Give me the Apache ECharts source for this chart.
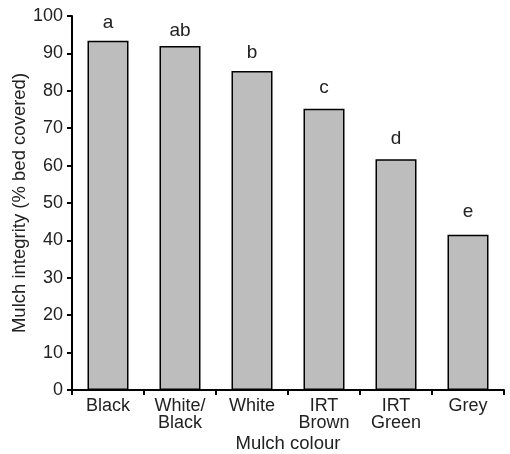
<!DOCTYPE html>
<html>
<head>
<meta charset="utf-8">
<script src="https://cdn.jsdelivr.net/npm/echarts@6/dist/echarts.min.js"></script>
<style>
  html, body { margin: 0; padding: 0; background: #fff; }
  #chart { width: 510px; height: 454px; }
</style>
</head>
<body>
<div id="chart"></div>
<script>
const categories = ['Black', 'White/\nBlack', 'White', 'IRT\nBrown', 'IRT\nGreen', 'Grey'];
const integrity = [93.4, 92.0, 85.3, 75.2, 61.7, 41.5];
const letters = ['a', 'ab', 'b', 'c', 'd', 'e'];

// letters sit at slightly different heights above the bars in the original
const letterGap = [8, 6, 8.5, 11, 11, 14];

const font = 'Liberation Sans, Arial, Helvetica, sans-serif';
const chart = echarts.init(document.getElementById('chart'));

const option = {
  animation: false,
  grid: { left: 72, right: 6, top: 16, bottom: 64, containLabel: false, outerBoundsMode: 'none' },
  xAxis: {
    type: 'category',
    data: categories,
    name: 'Mulch colour',
    nameLocation: 'middle',
    nameMoveOverlap: false,
    nameGap: 44,
    nameTextStyle: { color: '#222', fontSize: 18.5, fontFamily: font },
    axisLine: { lineStyle: { color: '#000', width: 2 } },
    axisTick: { show: true, alignWithLabel: false, length: 5, lineStyle: { color: '#000', width: 2 } },
    axisLabel: { color: '#222', fontSize: 18, fontFamily: font, lineHeight: 17, margin: 8 }
  },
  yAxis: {
    type: 'value',
    min: 0,
    max: 100,
    interval: 10,
    name: 'Mulch integrity (% bed covered)',
    nameLocation: 'middle',
    nameMoveOverlap: false,
    nameGap: 43,
    nameTextStyle: { color: '#222', fontSize: 18.5, fontFamily: font },
    splitLine: { show: false },
    axisLine: { show: true, lineStyle: { color: '#000', width: 2 } },
    axisTick: { show: true, length: 5, lineStyle: { color: '#000', width: 2 } },
    axisLabel: { color: '#222', fontSize: 18, fontFamily: font, margin: 9 }
  },
  series: [
    {
      type: 'bar',
      data: integrity.map((v, i) => ({ value: v, label: { distance: letterGap[i] } })),
      barWidth: 41,
      itemStyle: { color: '#bdbdbd', borderColor: '#000', borderWidth: 1.5 },
      label: {
        show: true,
        position: 'top',
        color: '#222',
        fontSize: 19,
        fontFamily: font,
        formatter: p => letters[p.dataIndex]
      }
    }
  ]
};

chart.setOption(option);
</script>
</body>
</html>
